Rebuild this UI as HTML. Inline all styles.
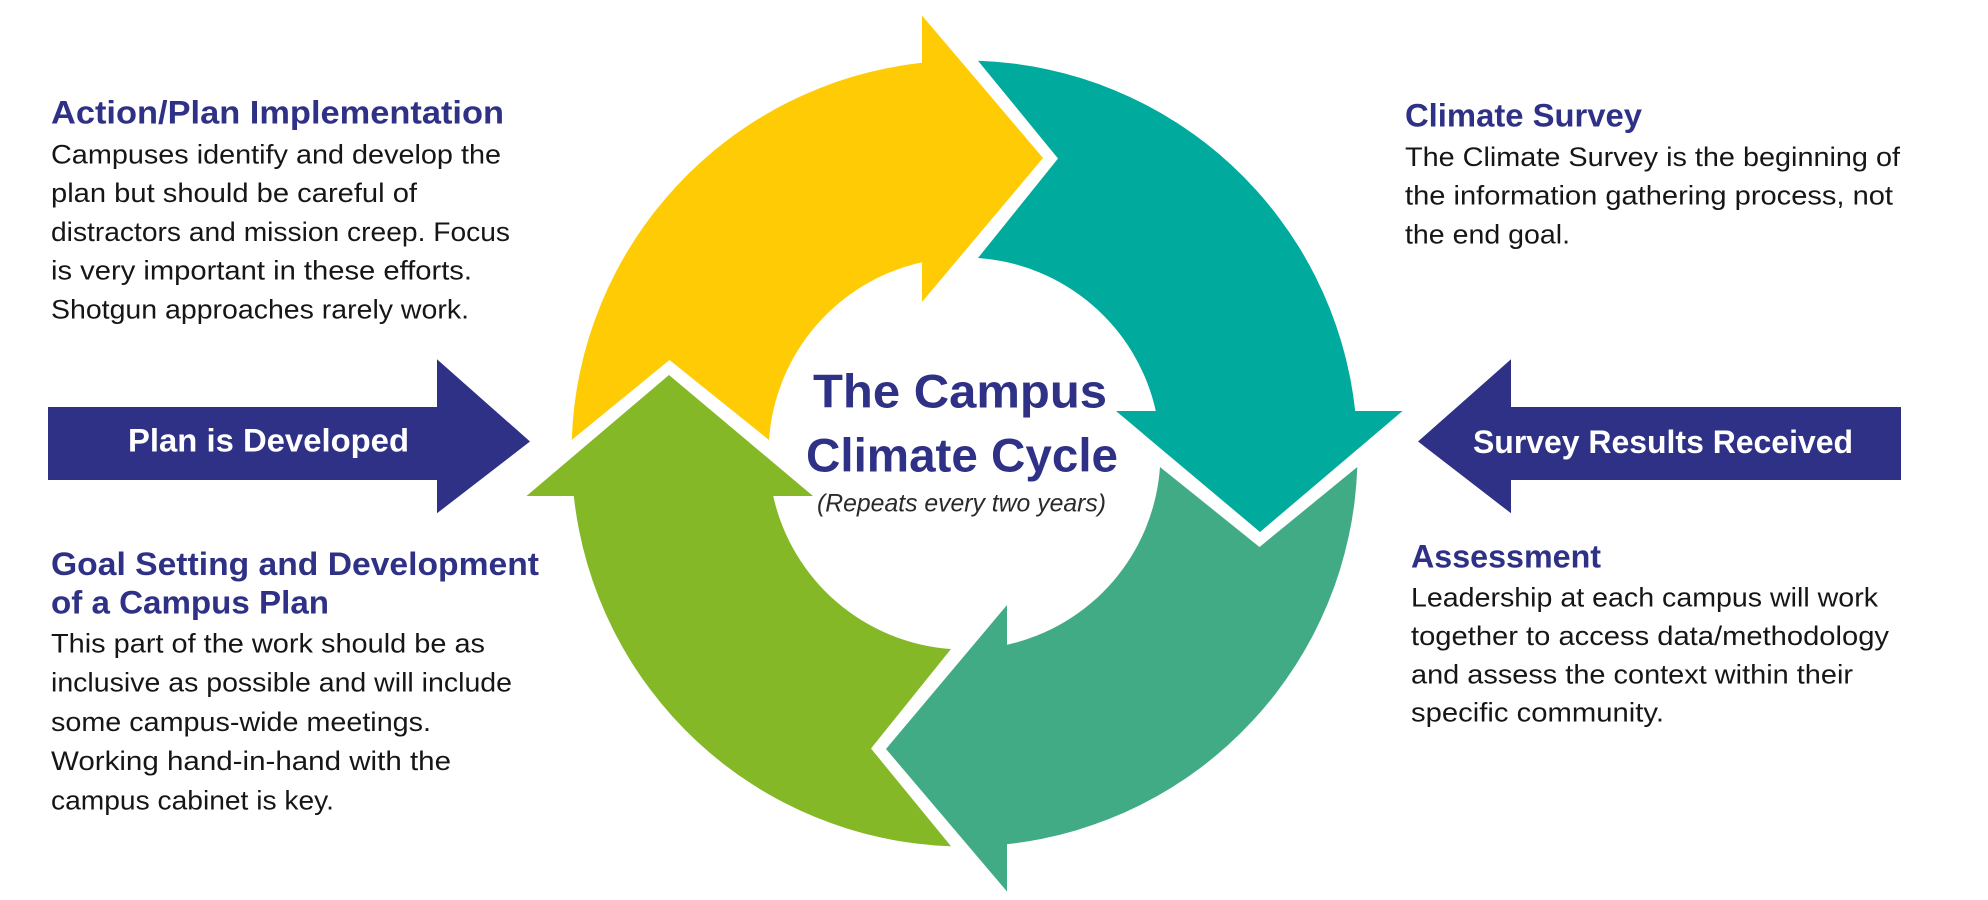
<!DOCTYPE html>
<html>
<head>
<meta charset="utf-8">
<style>
html,body{margin:0;padding:0;background:#fff;}
svg{display:block;}
.h{font-family:"Liberation Sans",Arial,sans-serif;font-weight:bold;fill:#2e3185;}
.b{font-family:"Liberation Sans",Arial,sans-serif;fill:#161616;}
.w{font-family:"Liberation Sans",Arial,sans-serif;font-weight:bold;fill:#ffffff;}
.it{font-family:"Liberation Sans",Arial,sans-serif;font-style:italic;fill:#2a2a2a;}
</style>
</head>
<body>
<svg width="1988" height="900" viewBox="0 0 1988 900" xmlns="http://www.w3.org/2000/svg">
  <rect width="1988" height="900" fill="#ffffff"/>
  <defs>
    <path id="arw" d="M 571.7 440 A 393 393 0 0 1 922 62.8 L 922 15.5 L 1043 158 L 922 302 L 922 262.2 A 196 196 0 0 0 769 440 L 669.5 360 Z"/>
  </defs>
  <!-- cycle arrows -->
  <use href="#arw" fill="#ffcb05"/>
  <use href="#arw" fill="#00aa9c" transform="rotate(90 964.5 453.5)"/>
  <use href="#arw" fill="#41ab85" transform="rotate(180 964.5 453.5)"/>
  <use href="#arw" fill="#84b827" transform="rotate(270 964.5 453.5)"/>

  <!-- navy block arrows -->
  <polygon points="48,407 437,407 437,359.3 530,441.5 437,513.3 437,480 48,480" fill="#2e3185"/>
  <polygon points="1901,407 1511,407 1511,359.3 1418,441.5 1511,513.3 1511,480 1901,480" fill="#2e3185"/>
  <text class="w" x="128" y="451.7" font-size="32" textLength="281" lengthAdjust="spacingAndGlyphs">Plan is Developed</text>
  <text class="w" x="1473" y="453" font-size="32" textLength="380" lengthAdjust="spacingAndGlyphs">Survey Results Received</text>

  <!-- center title -->
  <text class="h" x="813" y="407.5" font-size="47" textLength="294" lengthAdjust="spacingAndGlyphs">The Campus</text>
  <text class="h" x="806" y="471.5" font-size="47" textLength="312" lengthAdjust="spacingAndGlyphs">Climate Cycle</text>
  <text class="it" x="817" y="511.5" font-size="25" textLength="289" lengthAdjust="spacingAndGlyphs">(Repeats every two years)</text>

  <!-- Action/Plan Implementation -->
  <text class="h" x="51" y="123.3" font-size="32" textLength="453" lengthAdjust="spacingAndGlyphs">Action/Plan Implementation</text>
  <text class="b" x="51" y="163.4" font-size="27" textLength="450" lengthAdjust="spacingAndGlyphs">Campuses identify and develop the</text>
  <text class="b" x="51" y="202" font-size="27" textLength="366" lengthAdjust="spacingAndGlyphs">plan but should be careful of</text>
  <text class="b" x="51" y="240.8" font-size="27" textLength="459" lengthAdjust="spacingAndGlyphs">distractors and mission creep. Focus</text>
  <text class="b" x="51" y="279.5" font-size="27" textLength="421" lengthAdjust="spacingAndGlyphs">is very important in these efforts.</text>
  <text class="b" x="51" y="318.3" font-size="27" textLength="418" lengthAdjust="spacingAndGlyphs">Shotgun approaches rarely work.</text>

  <!-- Climate Survey -->
  <text class="h" x="1405" y="126.7" font-size="32" textLength="237" lengthAdjust="spacingAndGlyphs">Climate Survey</text>
  <text class="b" x="1405" y="166" font-size="27" textLength="495" lengthAdjust="spacingAndGlyphs">The Climate Survey is the beginning of</text>
  <text class="b" x="1405" y="204.5" font-size="27" textLength="488" lengthAdjust="spacingAndGlyphs">the information gathering process, not</text>
  <text class="b" x="1405" y="243.3" font-size="27" textLength="165" lengthAdjust="spacingAndGlyphs">the end goal.</text>

  <!-- Goal Setting -->
  <text class="h" x="51" y="575" font-size="32" textLength="488" lengthAdjust="spacingAndGlyphs">Goal Setting and Development</text>
  <text class="h" x="51" y="613.4" font-size="32" textLength="278" lengthAdjust="spacingAndGlyphs">of a Campus Plan</text>
  <text class="b" x="51" y="652.7" font-size="27" textLength="434" lengthAdjust="spacingAndGlyphs">This part of the work should be as</text>
  <text class="b" x="51" y="691.7" font-size="27" textLength="461" lengthAdjust="spacingAndGlyphs">inclusive as possible and will include</text>
  <text class="b" x="51" y="730.8" font-size="27" textLength="380" lengthAdjust="spacingAndGlyphs">some campus-wide meetings.</text>
  <text class="b" x="51" y="770" font-size="27" textLength="400" lengthAdjust="spacingAndGlyphs">Working hand-in-hand with the</text>
  <text class="b" x="51" y="809.3" font-size="27" textLength="283" lengthAdjust="spacingAndGlyphs">campus cabinet is key.</text>

  <!-- Assessment -->
  <text class="h" x="1411" y="567.3" font-size="32" textLength="190" lengthAdjust="spacingAndGlyphs">Assessment</text>
  <text class="b" x="1411" y="606.7" font-size="27" textLength="467" lengthAdjust="spacingAndGlyphs">Leadership at each campus will work</text>
  <text class="b" x="1411" y="645" font-size="27" textLength="478" lengthAdjust="spacingAndGlyphs">together to access data/methodology</text>
  <text class="b" x="1411" y="683.3" font-size="27" textLength="442" lengthAdjust="spacingAndGlyphs">and assess the context within their</text>
  <text class="b" x="1411" y="721.7" font-size="27" textLength="253" lengthAdjust="spacingAndGlyphs">specific community.</text>
</svg>
</body>
</html>
